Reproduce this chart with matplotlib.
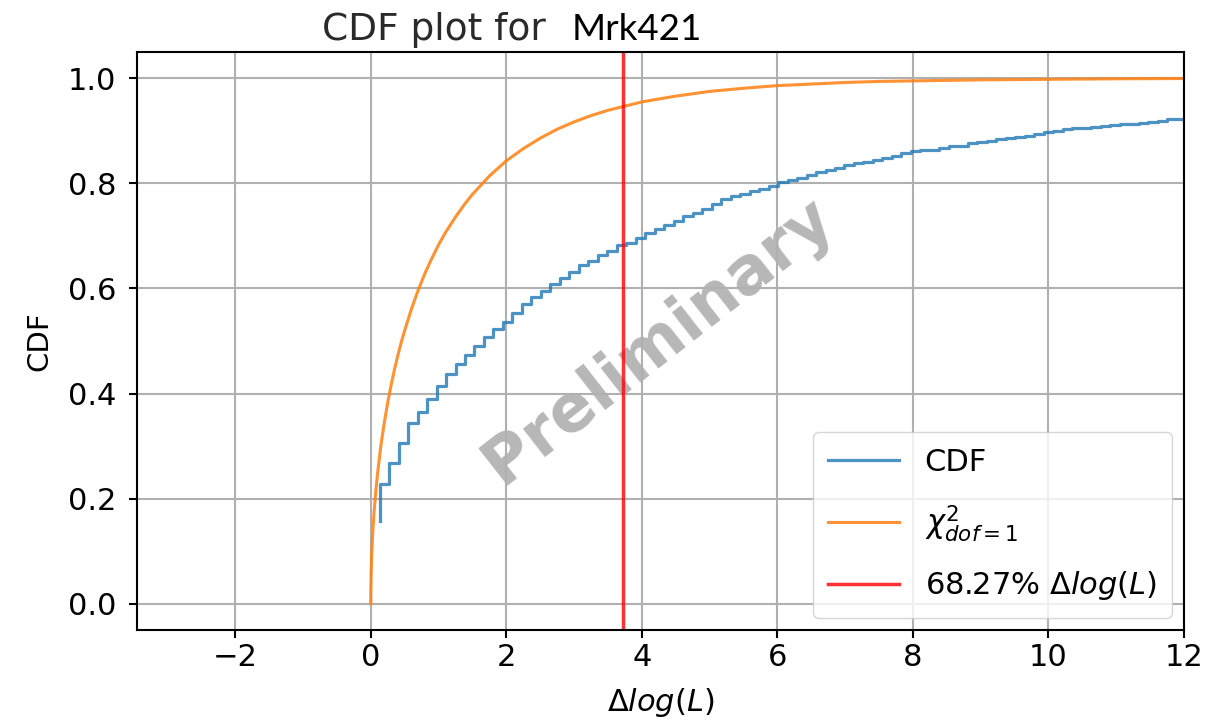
import numpy as np
import matplotlib
matplotlib.use("Agg")
import matplotlib.pyplot as plt

# empirical CDF (cumulative histogram), one value per bin edge
bin_start = 0.13
bin_width = 0.14
cdf_vals = [0.157,
            0.227, 0.267, 0.305, 0.343, 0.365, 0.389, 0.414, 0.437, 0.456, 0.473, 0.491,
            0.507, 0.523, 0.537, 0.553, 0.571, 0.583, 0.596, 0.609, 0.620, 0.631, 0.644,
            0.653, 0.664, 0.672, 0.682, 0.687, 0.696, 0.706, 0.714, 0.721, 0.728, 0.738,
            0.744, 0.752, 0.761,
            0.770, 0.776, 0.780, 0.785, 0.790, 0.795, 0.802, 0.806, 0.811, 0.815, 0.821,
            0.825, 0.830, 0.834, 0.838,
            0.840, 0.844, 0.849, 0.852, 0.857, 0.861, 0.863, 0.863, 0.868, 0.872, 0.872,
            0.876, 0.878, 0.880, 0.884, 0.886,
            0.889, 0.890, 0.894, 0.897, 0.899, 0.903, 0.906, 0.906, 0.908, 0.910, 0.911,
            0.913, 0.913, 0.915, 0.917, 0.919, 0.922, 0.922]
edges = bin_start + bin_width * np.arange(len(cdf_vals))

# chi2 (dof=1) cdf
chi_x = [0, 0.001, 0.005, 0.01, 0.02, 0.03, 0.05, 0.07, 0.1, 0.15, 0.2, 0.25, 0.3, 0.35,
         0.4, 0.45, 0.5, 0.6, 0.7, 0.8, 0.9, 1.0, 1.1, 1.25, 1.4, 1.5, 1.75, 2.0, 2.25,
         2.5, 2.75, 3.0, 3.25, 3.5, 3.75, 4.0, 4.5, 5.0, 5.5, 6.0, 6.5, 7.0, 7.5, 8.0,
         9.0, 10.0, 11.0, 12.0]
chi_y = [0, 0.025, 0.056, 0.080, 0.112, 0.138, 0.177, 0.209, 0.248, 0.302, 0.345, 0.383,
         0.416, 0.446, 0.473, 0.498, 0.520, 0.561, 0.597, 0.629, 0.657, 0.683, 0.706,
         0.736, 0.763, 0.779, 0.814, 0.843, 0.866, 0.886, 0.903, 0.917, 0.929, 0.939,
         0.947, 0.955, 0.966, 0.975, 0.981, 0.986, 0.989, 0.992, 0.994, 0.995, 0.997,
         0.998, 0.999, 0.9995]

dlogl_68 = 3.72

fig = plt.figure(figsize=(12.25, 7.24), dpi=100)
ax = fig.add_axes([137/1225, 1 - 630/724, (1184-137)/1225, (630-52)/724])

ax.step(edges, cdf_vals, where='pre', color='#1f77b4', alpha=0.8, lw=2.3, label='CDF')
ax.plot(chi_x, chi_y, color='#ff7f0e', alpha=0.85, lw=2.2, label=r'$\chi^2_{dof=1}$')
ax.axvline(dlogl_68, color='red', alpha=0.8, lw=2.5, label=r'68.27% $\Delta log(L)$')

ax.set_xlim(-3.45, 12)
ax.set_ylim(-0.05, 1.05)
ax.grid(True, color='#b0b0b0', lw=1.5)
for s in ax.spines.values():
    s.set_linewidth(1.5)
ax.tick_params(labelsize=22, width=1.5, length=6)
ax.tick_params(axis='y', pad=9)

ax.set_xlabel(r'$\Delta log(L)$', fontsize=22, labelpad=10)
ax.set_ylabel('CDF', fontsize=21, labelpad=10)

ax.text(4.25, 0.50, 'Preliminary', fontsize=47, fontweight='bold', color='#909090',
        alpha=0.65, rotation=38, ha='center', va='center', zorder=1)

leg = ax.legend(loc='lower right', fontsize=22, handlelength=2.3, borderpad=0.5,
                labelspacing=0.85, handletextpad=0.85, borderaxespad=0.4)

fig.text(322/1225, 1 - 40/724, 'CDF plot for', fontsize=27, color='#2a2a2a', va='baseline')
fig.text(572/1225, 1 - 40/724, 'Mrk421', fontsize=26.5, color='black', va='baseline',
         family='Lato')

fig.savefig('out.png', dpi=100)
